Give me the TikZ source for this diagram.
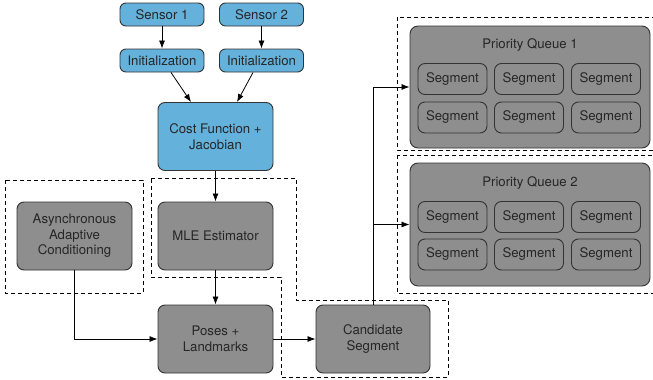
\documentclass[tikz,border=0pt]{standalone}
\usepackage{fontspec}
\setmainfont{TeX Gyre Heros}
\usetikzlibrary{arrows.meta}

\definecolor{boxblue}{HTML}{64B1DB}
\definecolor{boxgray}{HTML}{8E8E8E}
\definecolor{edgegray}{HTML}{333333}

\tikzset{
	block/.style={shape=rectangle, draw=edgegray, line width=0.9pt,
		rounded corners=7pt, align=center, text=black!85,
		font=\fontsize{13.2}{15.5}\selectfont, inner sep=0pt},
	small/.style={block, fill=boxblue, rounded corners=6pt,
		minimum width=84pt, minimum height=23pt},
	big/.style={block, minimum width=115pt, minimum height=68pt},
	queue/.style={block, fill=boxgray, rounded corners=8pt,
		minimum width=240pt, minimum height=122pt},
	segbox/.style={block, fill=boxgray, rounded corners=7pt,
		minimum width=69pt, minimum height=31pt},
	group/.style={draw=black, line width=0.8pt, dash pattern={on 4pt off 3pt}},
	link/.style={draw=black, line width=0.8pt,
		-{Latex[length=8pt, width=6pt]}}
}

\begin{document}
\begin{tikzpicture}[x=1pt, y=-1pt]
	\clip (0, 0) rectangle (653, 380);
	\fill[white] (0, 0) rectangle (653, 380);

	% Dashed groups:
	\draw[group] (5, 180) rectangle (143, 293);
	\draw[group] (151, 178) -- (296, 178) -- (296, 300) -- (448, 300)
	-- (448, 377) -- (281, 377) -- (281, 277) -- (151, 277) -- cycle;
	\draw[group] (397, 17) rectangle (670, 150);
	\draw[group] (397, 155) rectangle (670, 293);

	% Sensors and initialization
	\node[small] (S1) at (162, 14.5){Sensor 1};
	\node[small] (S2) at (261.5, 14.5){Sensor 2};
	\node[small] (I1) at (162, 60.5){Initialization};
	\node[small] (I2) at (261.5, 60.5){Initialization};

	% Estimation blocks
	\node[big, fill=boxblue] (CF) at (215.5, 136.5){Cost Function +\\Jacobian};
	\node[big, fill=boxgray] (MLE) at (215.5, 236){MLE Estimator};
	\node[big, fill=boxgray] (AAC) at (74.5, 236)
	{Asynchronous\\Adaptive\\Conditioning};
	\node[big, fill=boxgray] (PL) at (215.5, 339){Poses +\\Landmarks};
	\node[big, fill=boxgray, minimum width=114pt] (CS) at (373, 339)
	{Candidate\\Segment};

	% Priority queues with their segments
	\node[queue] (PQ1) at (530, 87){};
	\node[queue, minimum height=123pt] (PQ2) at (530, 224.5){};
	\node[block, draw=none] (T1) at (530, 45){Priority Queue 1};
	\node[block, draw=none] (T2) at (530, 183){Priority Queue 2};
	\foreach \q/\ya/\yb in {1/79/117.5, 2/217/254.5}{
		\foreach \c/\x in {1/452.5, 2/529, 3/606}{
			\node[segbox] (G\q a\c) at (\x, \ya){Segment};
			\node[segbox] (G\q b\c) at (\x, \yb){Segment};
		}
	}

	% Connectors
	\draw[link] (S1) -- (I1);
	\draw[link] (S2) -- (I2);
	\draw[link] ([xshift=9pt]I1.south) -- ([xshift=-24.5pt]CF.north);
	\draw[link] ([xshift=-8.5pt]I2.south) -- ([xshift=21.5pt]CF.north);
	\draw[link] (CF) -- (MLE);
	\draw[link] (MLE) -- (PL);
	\draw[link] (AAC.south) |- (PL.west);
	\draw[link] (PL) -- (CS);
	\draw[link] (CS.north) |- (PQ1.west);
	\draw[link] (CS.north) |- (PQ2.west);
\end{tikzpicture}
\end{document}
